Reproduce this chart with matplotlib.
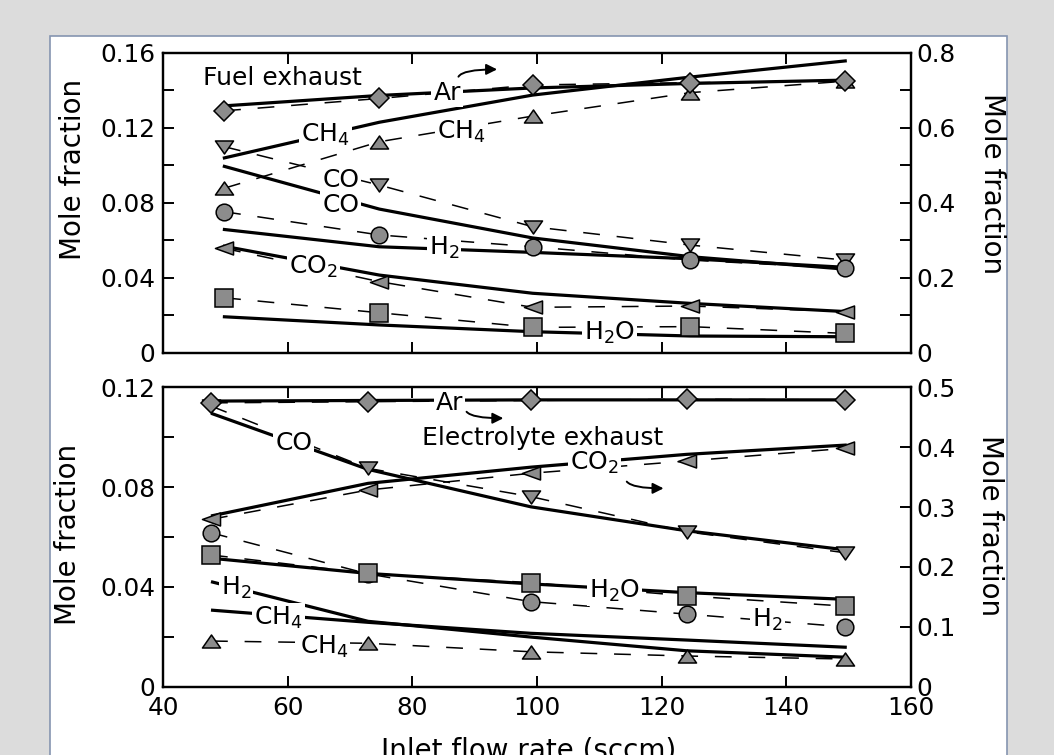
import numpy as np
import matplotlib
matplotlib.use("Agg")
import matplotlib.pyplot as plt
from matplotlib.path import Path
from matplotlib.patches import Rectangle

plt.rcParams['font.family'] = ['DejaVu Sans']
plt.rcParams['mathtext.fontset'] = 'dejavusans'

# ---------------- data ----------------
# Fuel exhaust (top panel)
flow_fuel_exp = [49.8, 74.7, 99.3, 124.6, 149.4]
flow_fuel_model = [49.6, 74.7, 99.3, 124.6, 149.7]
ar_fuel_exp = [0.645, 0.678, 0.714, 0.720, 0.725]          # right axis
ar_fuel_model = [0.658, 0.686, 0.706, 0.718, 0.727]        # right axis
ch4_fuel_exp = [0.0877, 0.1125, 0.1262, 0.1387, 0.1448]
ch4_fuel_model = [0.1037, 0.1229, 0.1374, 0.1470, 0.1557]
co_fuel_exp = [0.1099, 0.0894, 0.0672, 0.0574, 0.0494]
co_fuel_model = [0.0996, 0.0766, 0.0612, 0.0512, 0.0445]
h2_fuel_exp = [0.0752, 0.0628, 0.0565, 0.0494, 0.0450]
h2_fuel_model = [0.0658, 0.0565, 0.0535, 0.0501, 0.0455]
co2_fuel_exp = [0.0557, 0.0379, 0.0242, 0.0249, 0.0219]
co2_fuel_model = [0.0569, 0.0414, 0.0317, 0.0263, 0.0219]
h2o_fuel_exp = [0.0293, 0.0213, 0.0135, 0.0139, 0.0103]
h2o_fuel_model = [0.0192, 0.0148, 0.0112, 0.0089, 0.0085]

# Electrolyte exhaust (bottom panel)
flow_elec_exp = [47.7, 72.9, 99.0, 124.0, 149.4]
flow_elec_model = [47.7, 72.9, 99.0, 124.0, 149.7]
ar_elec_exp = [0.474, 0.476, 0.478, 0.480, 0.479]          # right axis
ar_elec_model = [0.477, 0.478, 0.479, 0.479, 0.479]        # right axis
co2_elec_exp = [0.2795, 0.3285, 0.3564, 0.3769, 0.3980]    # right axis
co2_elec_model = [0.2851, 0.3396, 0.3666, 0.3880, 0.4036]  # right axis
co_elec_exp = [0.1125, 0.0875, 0.0762, 0.0621, 0.0537]
co_elec_model = [0.1096, 0.0871, 0.0721, 0.0625, 0.0548]
h2o_elec_exp = [0.0528, 0.0454, 0.0417, 0.0364, 0.0323]
h2o_elec_model = [0.0515, 0.0454, 0.0412, 0.0377, 0.0350]
h2_elec_exp = [0.0617, 0.0452, 0.0341, 0.0291, 0.0240]
h2_elec_model = [0.0421, 0.0262, 0.0199, 0.0144, 0.0118]
ch4_elec_exp = [0.0183, 0.0174, 0.0140, 0.0123, 0.0111]
ch4_elec_model = [0.0307, 0.0258, 0.0214, 0.0187, 0.0158]

x_ticks = [40, 60, 80, 100, 120, 140, 160]
top_left_ticks = [0, 0.02, 0.04, 0.06, 0.08, 0.10, 0.12, 0.14, 0.16]
top_left_labels = ['0', '', '0.04', '', '0.08', '', '0.12', '', '0.16']
top_right_ticks = [0, 0.1, 0.2, 0.3, 0.4, 0.5, 0.6, 0.7, 0.8]
top_right_labels = ['0', '', '0.2', '', '0.4', '', '0.6', '', '0.8']
bot_left_ticks = [0, 0.02, 0.04, 0.06, 0.08, 0.10, 0.12]
bot_left_labels = ['0', '', '0.04', '', '0.08', '', '0.12']
bot_right_ticks = [0, 0.1, 0.2, 0.3, 0.4, 0.5]
bot_right_labels = ['0', '0.1', '0.2', '0.3', '0.4', '0.5']

# ---------------- style ----------------
GRAY = '#8c8c8c'
W, H = 1054, 755
fig = plt.figure(figsize=(W / 100, H / 100), dpi=100, facecolor='#dcdcdc')
fig.patches.append(Rectangle((50 / W, -0.02), (1007 - 50) / W, (H - 36) / H + 0.02,
                             transform=fig.transFigure, facecolor='white',
                             edgecolor='#8595b0', lw=1.2, zorder=-10))

ax1 = fig.add_axes([163 / W, (H - 352.7) / H, 748 / W, 300 / H])
ax2 = fig.add_axes([163 / W, (H - 686.7) / H, 748 / W, 299.4 / H])
ax1r = ax1.twinx()
ax2r = ax2.twinx()

def tri(kind):
    if kind == 'up':
        v = [(0, 0.72), (-1, -0.72), (1, -0.72), (0, 0.72)]
    elif kind == 'down':
        v = [(0, -0.72), (-1, 0.72), (1, 0.72), (0, -0.72)]
    else:
        v = [(-1, 0), (1, 0.72), (1, -0.72), (-1, 0)]
    return Path(v, [Path.MOVETO, Path.LINETO, Path.LINETO, Path.CLOSEPOLY])

M_UP, M_DOWN, M_LEFT = tri('up'), tri('down'), tri('left')
MS = {'D': 10.6, 's': 12.5, 'o': 12.0}

def exp(ax, x, y, marker):
    ms = MS.get(marker, 13.0) if isinstance(marker, str) else 13.0
    ax.plot(x, y, linestyle=(0, (11, 11)), lw=1.1, color='black',
            marker=marker, ms=ms, mfc=GRAY, mec='black', mew=1.1, zorder=3)

def model(ax, x, y):
    ax.plot(x, y, '-', lw=2.3, color='black', solid_capstyle='butt', zorder=2)

# top panel
model(ax1, flow_fuel_model, ch4_fuel_model)
model(ax1, flow_fuel_model, co_fuel_model)
model(ax1, flow_fuel_model, h2_fuel_model)
model(ax1, flow_fuel_model, co2_fuel_model)
model(ax1, flow_fuel_model, h2o_fuel_model)
exp(ax1, flow_fuel_exp, ch4_fuel_exp, M_UP)
exp(ax1, flow_fuel_exp, co_fuel_exp, M_DOWN)
exp(ax1, flow_fuel_exp, h2_fuel_exp, 'o')
exp(ax1, flow_fuel_exp, co2_fuel_exp, M_LEFT)
exp(ax1, flow_fuel_exp, h2o_fuel_exp, 's')
model(ax1r, flow_fuel_model, ar_fuel_model)
exp(ax1r, flow_fuel_exp, ar_fuel_exp, 'D')

# bottom panel
model(ax2, flow_elec_model, co_elec_model)
model(ax2, flow_elec_model, h2o_elec_model)
model(ax2, flow_elec_model, h2_elec_model)
model(ax2, flow_elec_model, ch4_elec_model)
exp(ax2, flow_elec_exp, co_elec_exp, M_DOWN)
exp(ax2, flow_elec_exp, ch4_elec_exp, M_UP)
exp(ax2, flow_elec_exp, h2_elec_exp, 'o')
exp(ax2, flow_elec_exp, h2o_elec_exp, 's')
model(ax2r, flow_elec_model, co2_elec_model)
model(ax2r, flow_elec_model, ar_elec_model)
exp(ax2r, flow_elec_exp, co2_elec_exp, M_LEFT)
exp(ax2r, flow_elec_exp, ar_elec_exp, 'D')

# axes formatting
TL = 17.8
for ax in (ax1, ax2):
    ax.set_xlim(40, 160)
    ax.set_xticks(x_ticks)
    ax.tick_params(axis='both', direction='in', length=8, width=1.4, labelsize=TL)
    ax.tick_params(axis='x', top=True, bottom=True, pad=6.5)
    ax.tick_params(axis='y', pad=5.8)
for ax in (ax1r, ax2r):
    ax.tick_params(axis='y', direction='in', length=8, width=1.4, labelsize=TL, pad=4)
for ax in (ax1, ax2, ax1r, ax2r):
    for s in ax.spines.values():
        s.set_linewidth(1.6)

ax1.tick_params(axis='x', labelbottom=False)
ax2.set_xticklabels([str(v) for v in x_ticks])
ax1.set_ylim(0, 0.16)
ax1.set_yticks(top_left_ticks, top_left_labels)
ax1r.set_ylim(0, 0.8)
ax1r.set_yticks(top_right_ticks, top_right_labels)
ax2.set_ylim(0, 0.12)
ax2.set_yticks(bot_left_ticks, bot_left_labels)
ax2r.set_ylim(0, 0.5)
ax2r.set_yticks(bot_right_ticks, bot_right_labels)

# labels on curves (drawn on the top-most twin axes, in left-axis data coords)
FS = 18
BOX = dict(boxstyle='square,pad=0.08', fc='white', ec='none')

def lab(axr, ax, x, y, s, ha='center', box=True):
    axr.text(x, y, s, transform=ax.transData, ha=ha, va='baseline', fontsize=FS,
             bbox=BOX if box else None, zorder=10)

lab(ax1r, ax1, 46.4, 0.1427, 'Fuel exhaust', ha='left', box=False)
lab(ax1r, ax1, 85.6, 0.1348, 'Ar')
lab(ax1r, ax1, 66.1, 0.1125, 'CH$_4$')
lab(ax1r, ax1, 87.9, 0.1143, 'CH$_4$')
lab(ax1r, ax1, 68.5, 0.0885, 'CO')
lab(ax1r, ax1, 68.5, 0.0752, 'CO')
lab(ax1r, ax1, 85.1, 0.0521, 'H$_2$')
lab(ax1r, ax1, 64.1, 0.0423, 'CO$_2$')
lab(ax1r, ax1, 111.7, 0.0068, 'H$_2$O')

lab(ax2r, ax2, 86.0, 0.1109, 'Ar')
lab(ax2r, ax2, 81.5, 0.0969, 'Electrolyte exhaust', ha='left', box=False)
lab(ax2r, ax2, 61.0, 0.0949, 'CO')
lab(ax2r, ax2, 109.2, 0.0869, 'CO$_2$')
lab(ax2r, ax2, 112.4, 0.0358, 'H$_2$O')
lab(ax2r, ax2, 137.0, 0.0240, 'H$_2$')
lab(ax2r, ax2, 51.7, 0.0368, 'H$_2$')
lab(ax2r, ax2, 58.5, 0.0247, 'CH$_4$')
lab(ax2r, ax2, 65.8, 0.0131, 'CH$_4$')

ARW = dict(arrowstyle='-|>', lw=1.4, color='black', mutation_scale=16, shrinkA=0, shrinkB=0)
ax1r.annotate('', xy=(93.6, 0.1511), xytext=(87.4, 0.1472), xycoords=ax1.transData,
              textcoords=ax1.transData,
              arrowprops=dict(ARW, connectionstyle='angle3,angleA=60,angleB=0'))
ax2r.annotate('', xy=(94.6, 0.1076), xytext=(88.7, 0.1102), xycoords=ax2.transData,
              textcoords=ax2.transData,
              arrowprops=dict(ARW, connectionstyle='angle3,angleA=-50,angleB=0'))
ax2r.annotate('', xy=(120.3, 0.0795), xytext=(114.4, 0.0822), xycoords=ax2.transData,
              textcoords=ax2.transData,
              arrowprops=dict(ARW, connectionstyle='angle3,angleA=-50,angleB=0'))

# axis titles
LF = 20
fig.text(73 / W, 1 - 169 / H, 'Mole fraction', rotation=90, ha='center', va='center', fontsize=LF)
fig.text(68 / W, 1 - 534 / H, 'Mole fraction', rotation=90, ha='center', va='center', fontsize=LF)
fig.text(991.7 / W, 1 - 184 / H, 'Mole fraction', rotation=270, ha='center', va='center', fontsize=LF)
fig.text(990 / W, 1 - 526 / H, 'Mole fraction', rotation=270, ha='center', va='center', fontsize=LF)
fig.text(529 / W, (H - 758) / H, 'Inlet flow rate (sccm)', ha='center', va='baseline', fontsize=LF)

fig.savefig('out.png', dpi=100, facecolor=fig.get_facecolor())
